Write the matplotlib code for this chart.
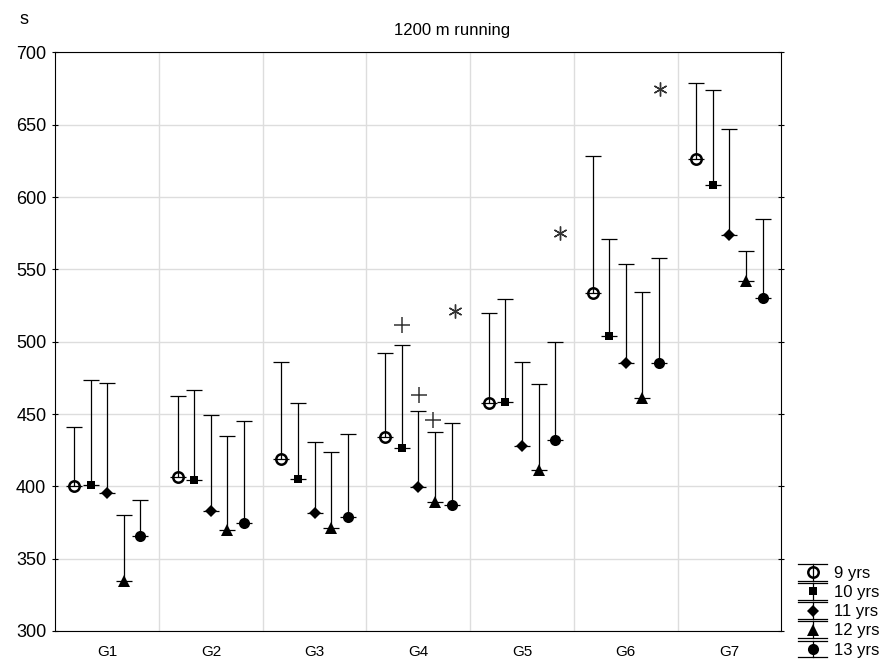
import numpy as np
import matplotlib.pyplot as plt
from matplotlib.lines import Line2D
from matplotlib.legend_handler import HandlerBase

plt.rcParams['font.family'] = ['Liberation Sans', 'DejaVu Sans']

groups = ['G1', 'G2', 'G3', 'G4', 'G5', 'G6', 'G7']
ages = ['9 yrs', '10 yrs', '11 yrs', '12 yrs', '13 yrs']

# mean time (s) and mean + SD for every age, per group
mean_9 = [400.2, 406.2, 418.9, 434.1, 457.8, 533.9, 626.3]
top_9 = [441.2, 462.4, 486.2, 492.2, 520.1, 628.2, 678.9]
mean_10 = [401.0, 404.6, 404.8, 426.3, 458.5, 503.9, 608.6]
top_10 = [473.3, 466.8, 457.4, 497.5, 529.3, 570.8, 674.0]
mean_11 = [395.6, 382.9, 381.3, 399.7, 427.9, 485.0, 574.0]
top_11 = [471.4, 449.5, 430.6, 451.8, 486.2, 553.5, 646.9]
mean_12 = [334.5, 369.8, 370.9, 388.9, 411.3, 460.9, 542.0]
top_12 = [380.4, 435.0, 423.9, 437.8, 470.8, 534.2, 563.0]
mean_13 = [365.6, 374.8, 378.6, 386.8, 432.0, 485.0, 530.5]
top_13 = [390.5, 445.4, 436.2, 443.6, 499.6, 558.1, 585.0]

# significance marks
plus_x = [3.84, 4.01, 4.14]
plus_y = [511.5, 463.0, 445.9]
star_x = [4.35, 5.37, 6.33]
star_y = [521.5, 575.5, 674.5]

means = [mean_9, mean_10, mean_11, mean_12, mean_13]
tops = [top_9, top_10, top_11, top_12, top_13]
offsets = [-0.32, -0.16, 0.0, 0.16, 0.32]
styles = [
    dict(marker='o', ms=7.5, mfc='none', mec='black', mew=1.8),
    dict(marker='s', ms=6, mfc='black', mec='black', mew=0),
    dict(marker='D', ms=6, mfc='black', mec='black', mew=0),
    dict(marker='^', ms=8, mfc='black', mec='black', mew=0),
    dict(marker='o', ms=8, mfc='black', mec='black', mew=0),
]


class WhiskerHandler(HandlerBase):
    def create_artists(self, legend, orig_handle, xdescent, ydescent,
                       width, height, fontsize, trans):
        cx = 0.5 * width - xdescent
        cy = 0.5 * height - ydescent
        half = 6.0
        capw = 10.5
        art = [
            Line2D([cx, cx], [cy - half, cy + half], color='black', lw=0.9),
            Line2D([cx - capw, cx + capw], [cy + half, cy + half], color='black', lw=0.9),
            Line2D([cx - capw, cx + capw], [cy - half, cy - half], color='black', lw=0.9),
            Line2D([cx], [cy], ls='none', marker=orig_handle.get_marker(),
                   ms=orig_handle.get_markersize(), mfc=orig_handle.get_markerfacecolor(),
                   mec=orig_handle.get_markeredgecolor(), mew=orig_handle.get_markeredgewidth()),
        ]
        for a in art:
            a.set_transform(trans)
        return art


fig = plt.figure(figsize=(8.88, 6.66), dpi=100)
ax = fig.add_axes([0.0623, 0.0526, 0.8176, 0.8686])

x = np.arange(1, len(groups) + 1)
proxies = []
for m, t, off, st in zip(means, tops, offsets, styles):
    m = np.array(m)
    t = np.array(t)
    ax.errorbar(x + off, m, yerr=[np.zeros_like(m), t - m], fmt='none',
                ecolor='black', elinewidth=0.9, capsize=5.8, capthick=0.9, zorder=3)
    ax.plot(x + off, m, ls='none', zorder=4, **st)
    proxies.append(Line2D([], [], ls='none', **st))

ax.plot(plus_x, plus_y, ls='none', marker='+', ms=11, mew=1.1, color='#333333', zorder=4)
ax.plot(star_x, star_y, ls='none', marker=(6, 2, 0), ms=10, mew=1.0, color='#333333', zorder=4)

ax.set_xlim(0.5, len(groups) + 0.5)
ax.set_ylim(300, 700)
ax.set_yticks(np.arange(300, 701, 50))
ax.set_xticks(x)
ax.set_xticklabels(groups, fontsize=11)
ax.set_xticks(np.arange(1.5, len(groups), 1.0), minor=True)
ax.tick_params(axis='x', which='major', length=0, pad=10)
ax.tick_params(axis='x', which='minor', length=0)
ax.tick_params(axis='y', direction='inout', length=5, width=0.8, labelsize=13, pad=4,
               right=True)
ax.grid(True, axis='y', which='major', color='#dddddd', lw=1)
ax.grid(True, axis='x', which='minor', color='#dddddd', lw=1)
ax.set_axisbelow(True)
for sp in ax.spines.values():
    sp.set_linewidth(0.8)
    sp.set_color('black')

fig.text(452 / 888, 1 - 30 / 666, '1200 m running', ha='center', va='center', fontsize=12)
fig.text(24 / 888, 1 - 19 / 666, 's', ha='center', va='center', fontsize=13)

fig.legend(proxies, ages, handler_map={Line2D: WhiskerHandler()},
           loc='lower right', bbox_to_anchor=(1.0, 0.0), frameon=False,
           fontsize=12, handlelength=1.8, handletextpad=0.4, labelspacing=0.25,
           borderpad=0.2, borderaxespad=0.3)

fig.savefig('out.png', dpi=100)
